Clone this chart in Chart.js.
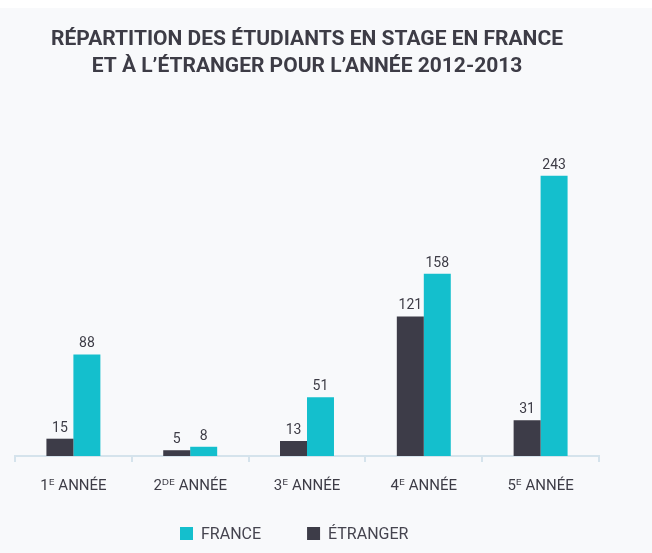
<!DOCTYPE html>
<html>
<head>
<meta charset="utf-8">
<script src="https://cdn.jsdelivr.net/npm/chart.js@4.4.1/dist/chart.umd.min.js"></script>
<style>
  html, body { margin: 0; padding: 0; background: #ffffff; }
  #wrap { width: 652px; height: 553px; position: relative; }
</style>
</head>
<body>
<div id="wrap"><canvas id="c" width="652" height="553"></canvas></div>
<script>
const categories = ['1ᴱ ANNÉE', '2ᴰᴱ ANNÉE', '3ᴱ ANNÉE', '4ᴱ ANNÉE', '5ᴱ ANNÉE'];
const etranger = [15, 5, 13, 121, 31];
const france = [88, 8, 51, 158, 243];
const seriesLabels = ['ÉTRANGER', 'FRANCE'];
const titleLines = ['RÉPARTITION DES ÉTUDIANTS EN STAGE EN FRANCE', 'ET À L’ÉTRANGER POUR L’ANNÉE 2012-2013'];

const TEXT = '#3d3c46';
const FONT = "Roboto, 'DejaVu Sans', sans-serif";

const bgPlugin = {
  id: 'bg',
  beforeDraw(chart) {
    const ctx = chart.ctx;
    ctx.save();
    ctx.fillStyle = '#f8f9fb';
    ctx.fillRect(0, 8, chart.width, chart.height - 8);
    ctx.restore();
  }
};

const valueLabels = {
  id: 'valueLabels',
  afterDatasetsDraw(chart) {
    const ctx = chart.ctx;
    ctx.save();
    ctx.font = '14px ' + FONT;
    ctx.fillStyle = TEXT;
    ctx.textAlign = 'center';
    ctx.textBaseline = 'alphabetic';
    chart.data.datasets.forEach((ds, i) => {
      const meta = chart.getDatasetMeta(i);
      meta.data.forEach((bar, j) => {
        ctx.fillText(String(ds.data[j]), bar.x, bar.y - 7);
      });
    });
    ctx.restore();
  }
};

// Legend drawn from the datasets (FRANCE first, as in the reference)
const customLegend = {
  id: 'customLegend',
  afterDraw(chart) {
    const ctx = chart.ctx;
    ctx.save();
    ctx.font = '16px ' + FONT;
    ctx.textBaseline = 'middle';
    ctx.textAlign = 'left';
    const items = chart.data.datasets.slice().reverse();
    const box = 13, gapText = 8, gapItem = 46;
    let x = 180;
    const yMid = 533.5;
    items.forEach(ds => {
      ctx.fillStyle = ds.backgroundColor;
      ctx.fillRect(x, yMid - box / 2, box, box);
      ctx.fillStyle = '#45444f';
      ctx.fillText(ds.label, x + box + gapText, yMid + 1);
      x += box + gapText + ctx.measureText(ds.label).width + gapItem;
    });
    ctx.restore();
  }
};

new Chart(document.getElementById('c'), {
  type: 'bar',
  data: {
    labels: categories,
    datasets: [
      { label: seriesLabels[0], data: etranger, backgroundColor: '#3d3c48' },
      { label: seriesLabels[1], data: france, backgroundColor: '#14bfcd' }
    ]
  },
  options: {
    responsive: false,
    animation: false,
    devicePixelRatio: 1,
    layout: { padding: { left: 15, right: 53, bottom: 43 } },
    datasets: { bar: { categoryPercentage: 0.462, barPercentage: 1.0 } },
    scales: {
      x: {
        grid: { display: true, drawOnChartArea: false, drawTicks: true, tickLength: 6, color: '#d5e3ec', lineWidth: 2, offset: true },
        border: { display: true, color: '#d5e3ec', width: 2 },
        ticks: { color: TEXT, font: { family: FONT, size: 15 }, padding: 15 }
      },
      y: { display: false, min: 0, max: 280 }
    },
    plugins: {
      title: {
        display: true,
        text: titleLines,
        color: TEXT,
        font: { family: FONT, size: 21, weight: 'bold', lineHeight: 1.286 },
        padding: { top: 26, bottom: 53 }
      },
      legend: { display: false },
      tooltip: { enabled: false }
    }
  },
  plugins: [bgPlugin, valueLabels, customLegend]
});
</script>
</body>
</html>
